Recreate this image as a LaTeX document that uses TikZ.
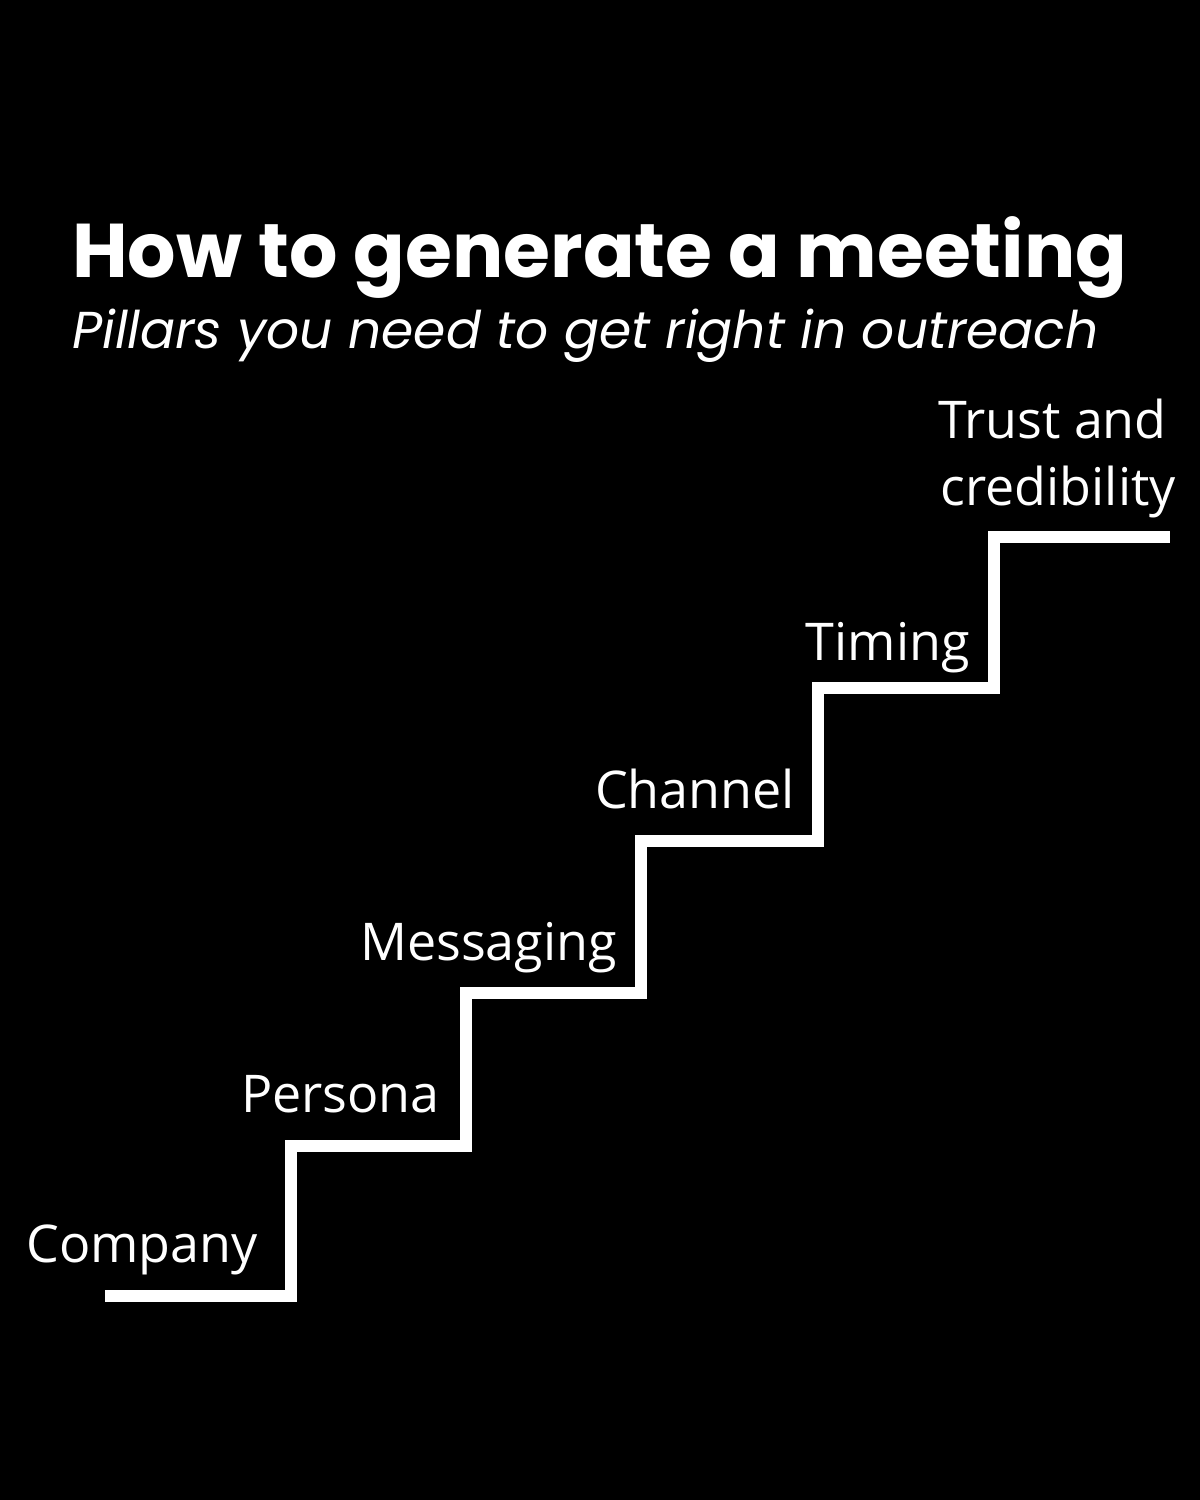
\documentclass[tikz,border=0pt]{standalone}
\usepackage{fontspec}
\setmainfont{Open Sans}
\newfontfamily\titlefont{Poppins}
\begin{document}
\begin{tikzpicture}[x=1pt,y=-1pt,
  lbl/.style={text=white,font=\fontsize{52}{60}\selectfont,inner sep=0pt,anchor=base east},
  stair/.style={draw=white,line width=12pt}]
\fill[black] (0,0) rectangle (1200,1500);
\useasboundingbox (0,0) rectangle (1200,1500);
\node[text=white,anchor=base west,inner sep=0pt] (title) at (72,277)
  {\resizebox{1055pt}{!}{\titlefont\bfseries How to generate a meeting}};
\node[text=white,anchor=base west,inner sep=0pt] (sub) at (72,348)
  {\resizebox{1026pt}{!}{\titlefont\itshape Pillars you need to get right in outreach}};
\coordinate (s0) at (105,1296);
\coordinate (s1) at (291,1296);
\coordinate (s2) at (291,1146);
\coordinate (s3) at (466,1146);
\coordinate (s4) at (466,993);
\coordinate (s5) at (641,993);
\coordinate (s6) at (641,841);
\coordinate (s7) at (818,841);
\coordinate (s8) at (818,688);
\coordinate (s9) at (994,688);
\coordinate (s10) at (994,537);
\coordinate (s11) at (1170,537);
\draw[stair] (s0) -- (s1) -- (s2) -- (s3) -- (s4) -- (s5) -- (s6) -- (s7) -- (s8) -- (s9) -- (s10) -- (s11);
\node[lbl] (company) at (258,1262) {Company};
\node[lbl] (persona) at (440,1112) {Persona};
\node[lbl] (messaging) at (617,960) {Messaging};
\node[lbl] (channel) at (795,808) {Channel};
\node[lbl] (timing) at (970,660) {Timing};
\node[lbl] (trust) at (1167,438) {Trust and};
\node[lbl] (cred) at (1176,505) {credibility};
\end{tikzpicture}
\end{document}
